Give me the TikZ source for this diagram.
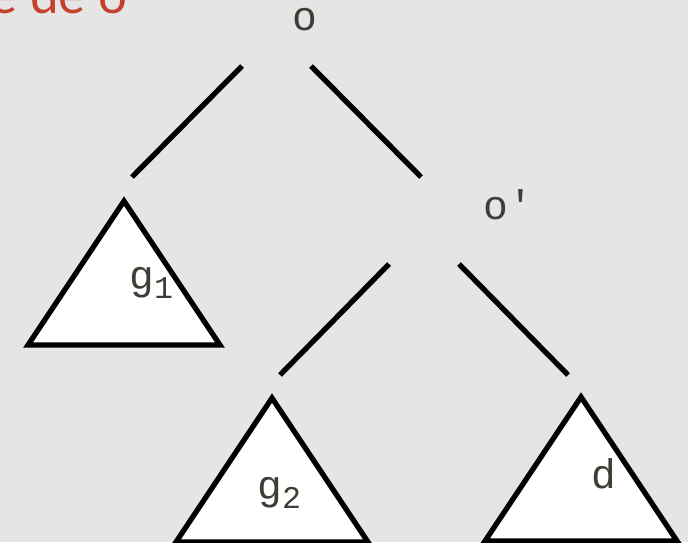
\documentclass[tikz,border=0pt]{standalone}
\usepackage{fontspec}
\usepackage{xcolor}
\usepackage{tikz}
\setmonofont{Liberation Mono}
\newfontfamily\titlefont{Lato}
\definecolor{bgcol}{RGB}{229,229,229}
\definecolor{titlered}{RGB}{196,64,44}
\definecolor{labelgray}{RGB}{62,62,52}
\newcommand{\idx}[1]{\raisebox{-0.22em}{\fontsize{18}{20}\selectfont#1}}

\begin{document}
\begin{tikzpicture}[
    x=0.02cm, y=-0.02cm,
    branch/.style={line width=3pt},
    tree/.style={draw, line width=3pt, fill=white, line join=miter},
    lbl/.style={anchor=base, text=labelgray, inner sep=0pt, font=\ttfamily\fontsize{23.5}{28}\selectfont}
]

\path[use as bounding box, fill=bgcol] (0,0) rectangle (688,542);
\clip (0,0) rectangle (688,542);

\node[anchor=base east, inner sep=0pt, text=titlered, font=\titlefont\fontsize{29}{32}\selectfont] (titulo) at (128,13) {e de o};

\node[lbl, text height=0.6em, text depth=0pt] (raiz) at (305,30) {o};
\node[lbl] (sub) at (508,219) {o\textquotesingle};

\coordinate (t1) at (124,201);
\coordinate (t2) at (272,398);
\coordinate (t3) at (581,397);

\draw[tree] (t1) -- ++(-96,144) -- ++(192,0) -- cycle;
\draw[tree] (t2) -- ++(-96,144) -- ++(192,0) -- cycle;
\draw[tree] (t3) -- ++(-96,144) -- ++(192,0) -- cycle;

\node[lbl, anchor=base west] (g1) at (129,289) {g\idx{1}};
\node[lbl, anchor=base west] (g2) at (257,499) {g\idx{2}};
\node[lbl] (d) at (604,488) {d};

\coordinate (r1) at (242,66);
\coordinate (r2) at (311,66);
\coordinate (r3) at (132,177);
\coordinate (r4) at (421,177);
\coordinate (s1) at (389,264);
\coordinate (s2) at (459,264);
\coordinate (s3) at (280,375);
\coordinate (s4) at (568,375);

\draw[branch] (r1) -- (r3);
\draw[branch] (r2) -- (r4);
\draw[branch] (s1) -- (s3);
\draw[branch] (s2) -- (s4);

\end{tikzpicture}
\end{document}
